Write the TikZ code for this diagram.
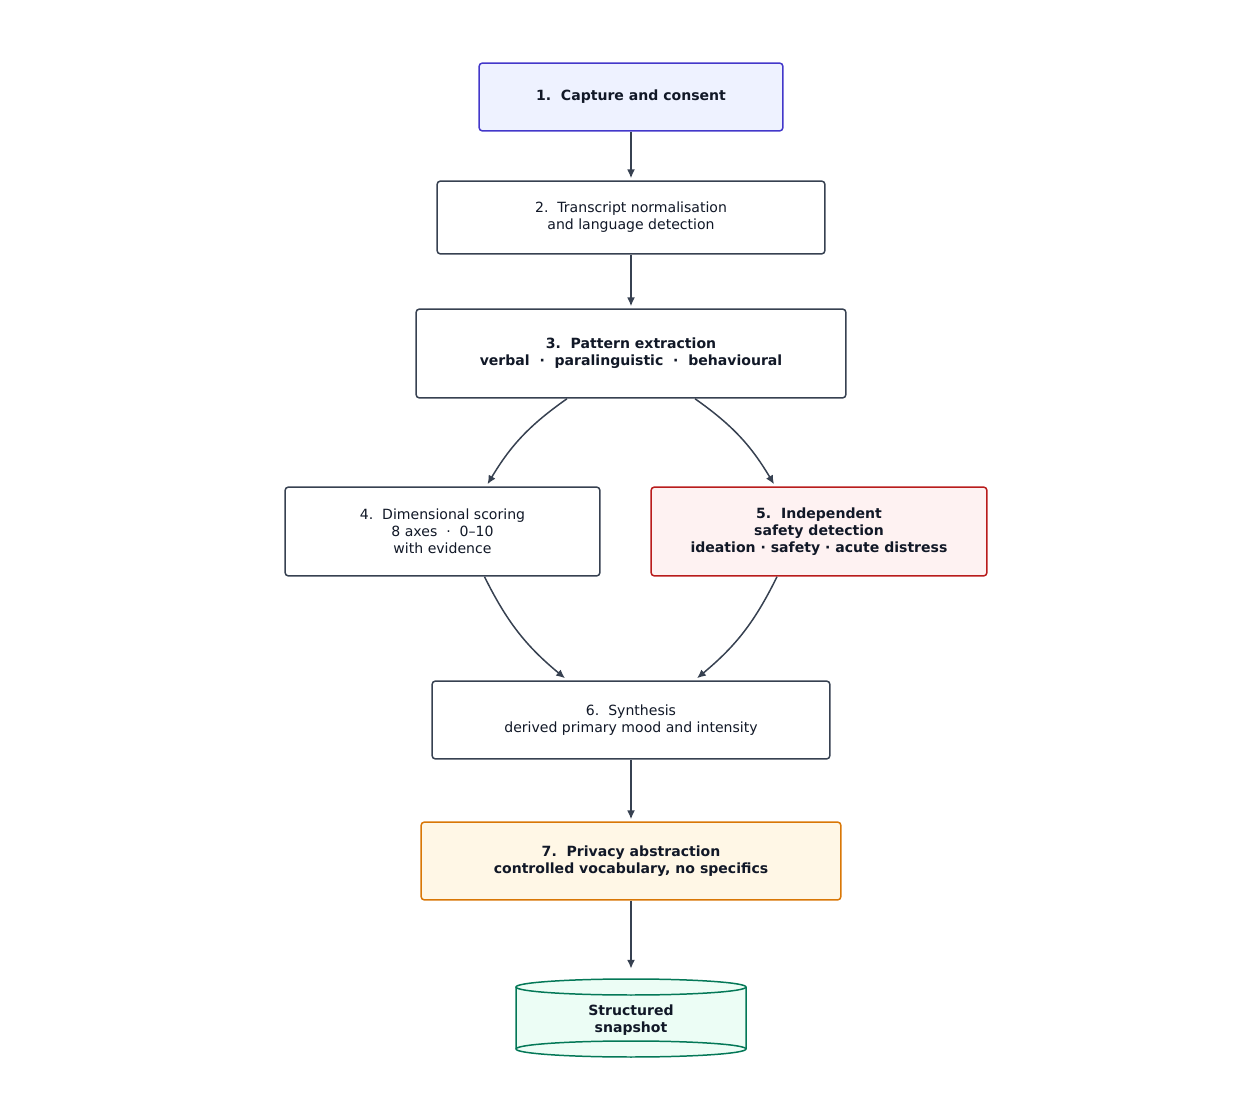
\documentclass[tikz,border=0pt]{standalone}
\usepackage{fontspec}
\setmainfont{DejaVu Sans}
\usetikzlibrary{arrows.meta,calc}
\definecolor{ink}{HTML}{111827}
\definecolor{edge}{HTML}{374151}
\definecolor{c1d}{HTML}{4338CA}\definecolor{c1f}{HTML}{EEF2FF}
\definecolor{c5d}{HTML}{B91C1C}\definecolor{c5f}{HTML}{FEF2F2}
\definecolor{c7d}{HTML}{D97706}\definecolor{c7f}{HTML}{FFF7E6}
\definecolor{cg}{HTML}{047857}\definecolor{cf}{HTML}{ECFDF5}
\begin{document}
\begin{tikzpicture}[x=0.02cm,y=-0.02cm,
  box/.style={draw=edge,line width=0.85pt,rounded corners=2pt,fill=white,align=center,text=ink,font=\fontsize{8}{9.6}\selectfont,inner sep=0pt},
  bb/.style={box,font=\fontsize{8}{9.6}\selectfont\bfseries},
  arr/.style={draw=edge,line width=0.85pt,-{Latex[length=5pt,width=4.5pt]}}]
\useasboundingbox (0,0) rectangle (1252,1108);
\node[bb,draw=c1d,fill=c1f,minimum width=6.08cm,minimum height=1.36cm] (n1) at (631,97) {1.\ \ Capture and consent};
\node[box,minimum width=7.76cm,minimum height=1.46cm] (n2) at (631,217.5) {2.\ \ Transcript normalisation\\and language detection};
\node[bb,minimum width=8.6cm,minimum height=1.78cm] (n3) at (631,353.5) {3.\ \ Pattern extraction\\verbal\ \ ·\ \ paralinguistic\ \ ·\ \ behavioural};
\node[box,minimum width=6.3cm,minimum height=1.78cm] (n4) at (442.5,531.5) {4.\ \ Dimensional scoring\\8 axes\ \ ·\ \ 0–10\\with evidence};
\node[bb,draw=c5d,fill=c5f,minimum width=6.72cm,minimum height=1.78cm] (n5) at (819,531.5) {5.\ \ Independent\\safety detection\\ideation · safety · acute distress};
\node[box,minimum width=7.96cm,minimum height=1.56cm] (n6) at (631,720) {6.\ \ Synthesis\\derived primary mood and intensity};
\node[bb,draw=c7d,fill=c7f,minimum width=8.4cm,minimum height=1.56cm] (n7) at (631,861) {7.\ \ Privacy abstraction\\controlled vocabulary, no specifics};
% cylinder
\fill[cf] (516,987) -- (516,1049) arc[start angle=180,end angle=360,x radius=115,y radius=-8] -- (746,987) -- cycle;
\draw[cg,line width=0.85pt] (516,987) -- (516,1049) arc[start angle=180,end angle=360,x radius=115,y radius=-8] -- (746,987);
\draw[cg,line width=0.85pt,fill=cf] (631,987) ellipse[x radius=115,y radius=8];
\draw[cg,line width=0.85pt] (516,1049) arc[start angle=180,end angle=0,x radius=115,y radius=-8];
\node[align=center,text=ink,font=\fontsize{8}{9.6}\selectfont\bfseries,minimum width=4.6cm,minimum height=1.0cm,inner sep=0pt] (n8) at (631,1020) {Structured\\snapshot};
\draw[arr] (n1) -- ($(n2.north)+(0,-2)$);
\draw[arr] (n2) -- ($(n3.north)+(0,-2)$);
\draw[arr] ($(n3.south)+(-64,0)$) to[bend right=12] ($(n4.north)+(45,-2)$);
\draw[arr] ($(n3.south)+(64,0)$) to[bend left=12] ($(n5.north)+(-45,-2)$);
\draw[arr] ($(n4.south)+(42,0)$) to[bend right=12] ($(n6.north)+(-66,-2)$);
\draw[arr] ($(n5.south)+(-42,0)$) to[bend left=12] ($(n6.north)+(66,-2)$);
\draw[arr] (n6) -- ($(n7.north)+(0,-2)$);
\draw[arr] (n7) -- ($(n8.north)+(0,-26)$);
\end{tikzpicture}
\end{document}
